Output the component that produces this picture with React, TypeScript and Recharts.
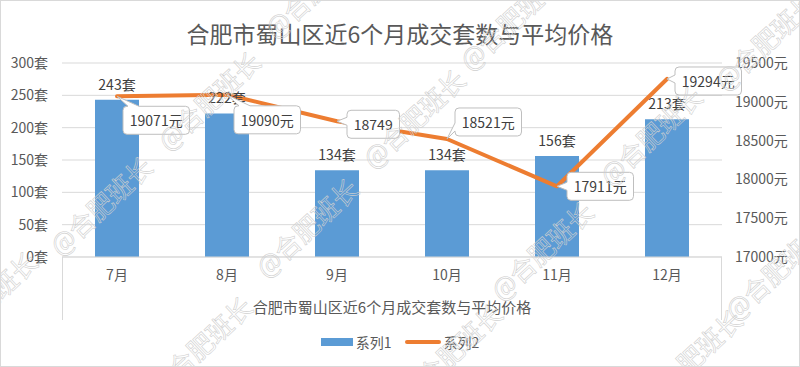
import React from 'react';
import { ComposedChart, Bar, Line, XAxis, YAxis, CartesianGrid, LabelList } from 'recharts';

const title = '合肥市蜀山区近6个月成交套数与平均价格';
const months = ['7月', '8月', '9月', '10月', '11月', '12月'];
const deals = [243, 222, 134, 134, 156, 213];
const prices = [19071, 19090, 18749, 18521, 17911, 19294];
const priceLabels = ['19071元', '19090元', '18749', '18521元', '17911元', '19294元'];
const leftTicks = [0, 50, 100, 150, 200, 250, 300];
const rightTicks = [17000, 17500, 18000, 18500, 19000, 19500];
const seriesNames = ['系列1', '系列2'];

// where each price callout sits relative to its point: box corner offset + pointer side
const calloutPos: [number, number, string][] = [
  [6, 10, 'top'], [7, 11, 'top'], [10, -11, 'left'], [8, -31, 'left'], [10, -14, 'left'], [8, -12, 'left'],
];

// watermark centres ("@合肥班长" stamped across the picture)
const marks = [
  [208, 100], [413, 118], [650, 135],
  [100, 205], [306, 227], [541, 250], [775, 270],
  [-15, 300], [200, 345], [450, 352], [690, 358],
  [510, 20], [765, 40], [315, -12],
];

const data = months.map((m, i) => ({ month: m, deals: deals[i], price: prices[i], priceLabel: priceLabels[i] }));

const textColor = '#595959';
const fontFamily = '"Noto Sans CJK SC", "Microsoft YaHei", sans-serif';

const textWidth = (s: string, fs: number) =>
  s.split('').reduce((w, c) => w + (/[0-9]/.test(c) ? 0.55 : 1) * fs, 0);

function calloutPath(x: number, y: number, w: number, h: number, px: number, py: number, side: string) {
  const r = 4;
  if (side === 'top') {
    return `M${x + r},${y} L${x + 5},${y} L${px},${py} L${x + 16},${y} L${x + w - r},${y} Q${x + w},${y} ${x + w},${y + r}
      L${x + w},${y + h - r} Q${x + w},${y + h} ${x + w - r},${y + h} L${x + r},${y + h} Q${x},${y + h} ${x},${y + h - r}
      L${x},${y + r} Q${x},${y} ${x + r},${y} Z`;
  }
  const c = Math.min(Math.max(py, y + 9), y + h - 9);
  return `M${x + r},${y} L${x + w - r},${y} Q${x + w},${y} ${x + w},${y + r}
    L${x + w},${y + h - r} Q${x + w},${y + h} ${x + w - r},${y + h} L${x + r},${y + h} Q${x},${y + h} ${x},${y + h - r}
    L${x},${c + 4} L${px},${py} L${x},${c - 4} L${x},${y + r} Q${x},${y} ${x + r},${y} Z`;
}

const Callout = (props: any) => {
  const { x, y, value } = props;
  const i = priceLabels.indexOf(value);
  if (i < 0 || x == null || y == null) return null;
  const [dx, dy, side] = calloutPos[i];
  const fs = 14;
  const w = textWidth(String(value), fs) + 14;
  const h = 28;
  const bx = x + dx;
  const by = y + dy;
  return (
    <g>
      <path d={calloutPath(bx, by, w, h, x, y, side)} fill="#fff" stroke="#BFBFBF" strokeWidth={1} />
      <text x={bx + w / 2} y={by + h / 2} textAnchor="middle" dominantBaseline="central" fontSize={fs} fill="#404040">
        {value}
      </text>
    </g>
  );
};

export default function App() {
  return (
    <div style={{ position: 'absolute', left: 0, top: 0, width: 800, height: 367, background: '#fff', fontFamily }}>
      <ComposedChart width={800} height={367} data={data} margin={{ top: 63, right: 0, bottom: 49, left: 0 }}>
        <CartesianGrid yAxisId="left" vertical={false} stroke="#D9D9D9" />
        <XAxis
          dataKey="month"
          height={61}
          tickLine={false}
          axisLine={{ stroke: '#D9D9D9' }}
          tick={{ fill: textColor, fontSize: 14 }}
          tickMargin={7}
          label={{ value: title, position: 'insideBottom', offset: 5, fill: textColor, fontSize: 15 }}
        />
        <YAxis
          yAxisId="left"
          domain={[0, 300]}
          ticks={leftTicks}
          width={62}
          axisLine={false}
          tickLine={false}
          tickMargin={8}
          tick={{ fill: textColor, fontSize: 14 }}
          tickFormatter={(v) => `${v}套`}
        />
        <YAxis
          yAxisId="right"
          orientation="right"
          domain={[17000, 19500]}
          ticks={rightTicks}
          width={78}
          axisLine={false}
          tickLine={false}
          tickMargin={7}
          tick={{ fill: textColor, fontSize: 14 }}
          tickFormatter={(v) => `${v}元`}
        />
        <Bar yAxisId="left" dataKey="deals" name={seriesNames[0]} fill="#5B9BD5" barSize={44} isAnimationActive={false}>
          <LabelList dataKey="deals" position="top" offset={10} fill="#404040" fontSize={14} formatter={(v: any) => `${v}套`} />
        </Bar>
        <Line
          yAxisId="right"
          dataKey="price"
          name={seriesNames[1]}
          stroke="#ED7D31"
          strokeWidth={4}
          strokeLinecap="round"
          strokeLinejoin="round"
          dot={false}
          activeDot={false}
          isAnimationActive={false}
        >
          <LabelList dataKey="priceLabel" content={<Callout />} />
        </Line>
      </ComposedChart>

      {/* legend drawn by hand so it doesn't eat into the plot height */}
      <div
        style={{
          position: 'absolute', left: 0, top: 332, width: 800, height: 20,
          display: 'flex', justifyContent: 'center', alignItems: 'center', fontSize: 14, color: textColor,
        }}
      >
        <span style={{ display: 'flex', alignItems: 'center', marginRight: 13 }}>
          <span style={{ width: 32, height: 8, background: '#5B9BD5', marginRight: 3 }} />
          {seriesNames[0]}
        </span>
        <span style={{ display: 'flex', alignItems: 'center' }}>
          <span style={{ width: 36, height: 4, borderRadius: 2, background: '#ED7D31', marginRight: 3 }} />
          {seriesNames[1]}
        </span>
      </div>

      <svg width={800} height={367} style={{ position: 'absolute', left: 0, top: 0, pointerEvents: 'none' }}>
        <text x={400} y={33} textAnchor="middle" dominantBaseline="central" fontSize={23} fill={textColor}>
          {title}
        </text>
        <line x1={62.5} y1={257} x2={62.5} y2={320} stroke="#D9D9D9" />
        <line x1={721.5} y1={257} x2={721.5} y2={320} stroke="#D9D9D9" />
        {marks.map(([cx, cy], i) => (
          <text
            key={i}
            x={cx}
            y={cy}
            transform={`rotate(-43 ${cx} ${cy})`}
            textAnchor="middle"
            dominantBaseline="central"
            fontSize={26}
            fill="none"
            stroke="#CFCFCF"
            strokeWidth={0.6}
          >
            @合肥班长
          </text>
        ))}
        <rect x={0.5} y={0.5} width={799} height={366} fill="none" stroke="#D9D9D9" />
      </svg>
    </div>
  );
}
